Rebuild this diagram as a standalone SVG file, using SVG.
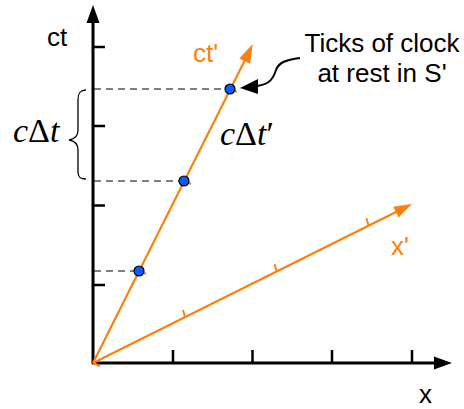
<svg xmlns="http://www.w3.org/2000/svg" width="464" height="409" viewBox="0 0 464 409">
<style>
.ax{stroke:#000;stroke-width:3;fill:none}
.tk{stroke:#000;stroke-width:2.5;fill:none}
.or{stroke:#ff7f0e;stroke-width:2.2;fill:none}
.otk{stroke:#ff7f0e;stroke-width:2;fill:none}
.dash{stroke:#555;stroke-width:1.5;stroke-dasharray:7 5;fill:none}
.dot{fill:#0a5cff;stroke:#000;stroke-width:1.2}
.lbl{font-family:"Liberation Sans",Arial,sans-serif;font-size:26px}
.math{font-family:"Liberation Serif","Times New Roman",serif;font-size:34px}
</style>
<rect width="464" height="409" fill="#fff"/>
<g id="connectors">
  <line class="dash" x1="94" y1="89" x2="226" y2="89"/>
  <line class="dash" x1="94" y1="181" x2="179" y2="181"/>
  <line class="dash" x1="94" y1="271" x2="134" y2="271"/>
  <path d="M300,58 C286,60 279,62 276,70 C273,79 270,84 257,86" stroke="#000" stroke-width="2" fill="none"/>
  <polygon points="240,88 258,79 258,94" fill="#000"/>
</g>
<g id="ct-axis">
  <line class="ax" x1="93" y1="364" x2="93" y2="22"/>
  <polygon points="93,5 86.5,23 99.5,23" fill="#000"/>
  <line class="tk" x1="93" y1="47" x2="105" y2="47"/>
  <line class="tk" x1="93" y1="126" x2="105" y2="126"/>
  <line class="tk" x1="93" y1="205.5" x2="105" y2="205.5"/>
  <line class="tk" x1="93" y1="285" x2="105" y2="285"/>
  <text class="lbl" x="47" y="46" font-size="27">ct</text>
</g>
<g id="x-axis">
  <line class="ax" x1="92" y1="363" x2="436" y2="363"/>
  <polygon points="452,363 434,356.5 434,369.5" fill="#000"/>
  <line class="tk" x1="173" y1="350" x2="173" y2="363"/>
  <line class="tk" x1="252.5" y1="350" x2="252.5" y2="363"/>
  <line class="tk" x1="332" y1="350" x2="332" y2="363"/>
  <line class="tk" x1="412" y1="350" x2="412" y2="363"/>
  <text class="lbl" x="419" y="403">x</text>
</g>
<g id="ctprime-axis">
  <line class="or" x1="93" y1="363" x2="245" y2="60"/>
  <polygon points="252.7,44 250,63.8 239.3,58.4" fill="#ff7f0e"/>
  <line class="otk" x1="93" y1="363" x2="100" y2="366"/>
  <line class="otk" x1="139" y1="271" x2="146" y2="274"/>
  <line class="otk" x1="184" y1="181" x2="191" y2="184"/>
  <line class="otk" x1="230" y1="89" x2="237" y2="92"/>
  <text class="lbl" x="193" y="62" fill="#ff7f0e">ct'</text>
</g>
<g id="xprime-axis">
  <line class="or" x1="93" y1="363" x2="397" y2="211.5"/>
  <polygon points="412,204 398.6,217.4 393.2,206.7" fill="#ff7f0e"/>
  <line class="otk" x1="185" y1="317" x2="183" y2="310"/>
  <line class="otk" x1="276.6" y1="271.2" x2="274.6" y2="264.2"/>
  <line class="otk" x1="368.4" y1="225.3" x2="366.4" y2="218.3"/>
  <text class="lbl" x="391" y="255" fill="#ff7f0e">x'</text>
</g>
<g id="tick-events">
  <circle class="dot" cx="139" cy="271" r="5"/>
  <circle class="dot" cx="184" cy="181" r="5"/>
  <circle class="dot" cx="230" cy="89" r="5"/>
</g>
<g id="callout-label">
  <text class="lbl" x="382" y="52" text-anchor="middle">Ticks of clock</text>
  <text class="lbl" x="382" y="82" text-anchor="middle">at rest in S'</text>
</g>
<g id="delta-t">
  <path d="M86,90 C80,90 78,93 78,100 L78,130 C78,136 75,139 69,140 C75,141 78,144 78,150 L78,172 C78,177 80,179 86,179" stroke="#000" stroke-width="1.3" fill="none"/>
  <text class="math" x="13" y="142"><tspan font-style="italic">c</tspan>Δ<tspan font-style="italic">t</tspan></text>
</g>
<g id="delta-tprime">
  <text class="math" x="220" y="145"><tspan font-style="italic">c</tspan>Δ<tspan font-style="italic">t</tspan>′</text>
</g>
</svg>
